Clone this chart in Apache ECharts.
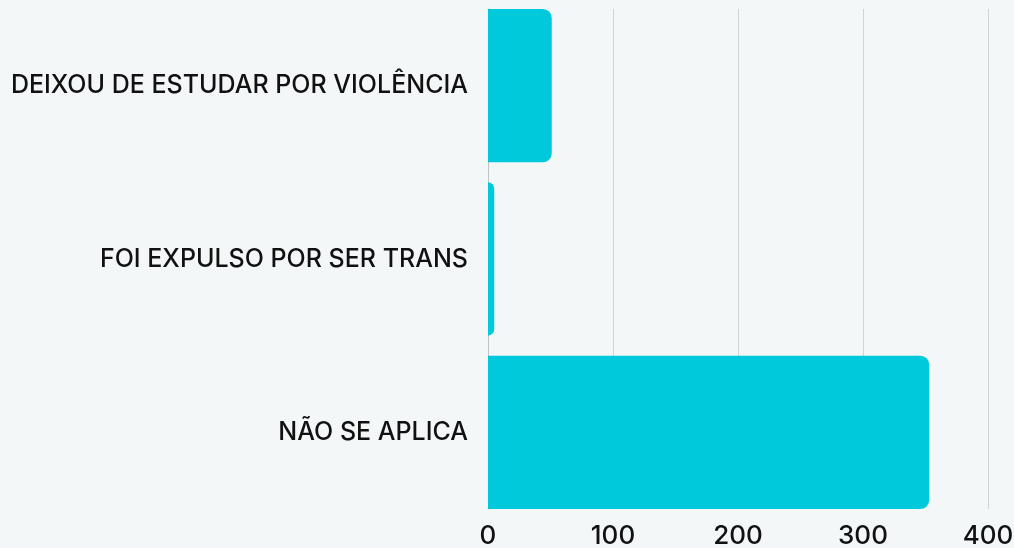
<!DOCTYPE html>
<html><head><meta charset="utf-8">
<script src="https://cdn.jsdelivr.net/npm/echarts@6/dist/echarts.min.js"></script>
<style>html,body{margin:0;padding:0;background:#f3f7f8;}#c{width:1014px;height:548px;}</style>
</head><body><div id="c"></div>
<script>
const categories = ["DEIXOU DE ESTUDAR POR VIOLÊNCIA", "FOI EXPULSO POR SER TRANS", "NÃO SE APLICA"];
const values = [51, 5, 353];
const tickMax = 400;
const tickInterval = 100;

const chart = echarts.init(document.getElementById('c'));
const font = 'Inter, "Noto Sans", sans-serif';
chart.setOption({
  backgroundColor: '#f3f7f8',
  animation: false,
  grid: [
    {left: 488, right: 26, top: -1, bottom: 29, containLabel: false, outerBoundsMode: 'none'},
    {left: 488, right: 26, top: 9, bottom: 39, containLabel: false, outerBoundsMode: 'none'}
  ],
  xAxis: [
    {gridIndex: 0, type: 'value', min: 0, max: tickMax, interval: tickInterval,
     axisLabel: {show: false}, splitLine: {show: false}, axisLine: {show: false}, axisTick: {show: false}},
    {gridIndex: 1, type: 'value', min: 0, max: tickMax, interval: tickInterval,
     axisLabel: {show: true, color: '#111', fontSize: 26, fontWeight: 500, fontFamily: font, margin: 14},
     splitLine: {show: true, lineStyle: {color: '#cfd3d6', width: 1}},
     axisLine: {show: false}, axisTick: {show: false}}
  ],
  yAxis: [
    {gridIndex: 0, type: 'category', data: categories, inverse: true,
     axisLabel: {color: '#111', fontSize: 25, fontWeight: 500, fontFamily: font, margin: 20},
     axisLine: {show: false}, axisTick: {show: false}},
    {gridIndex: 1, type: 'category', data: categories, inverse: true,
     axisLabel: {show: false}, axisTick: {show: false},
     axisLine: {show: true, lineStyle: {color: '#bfc3c6', width: 1}}}
  ],
  series: [{
    type: 'bar', xAxisIndex: 0, yAxisIndex: 0, data: values,
    barCategoryGap: '11.5%',
    itemStyle: {color: '#00c9db', borderRadius: [0, 9, 9, 0]},
    z: 3
  }]
});
</script></body></html>
